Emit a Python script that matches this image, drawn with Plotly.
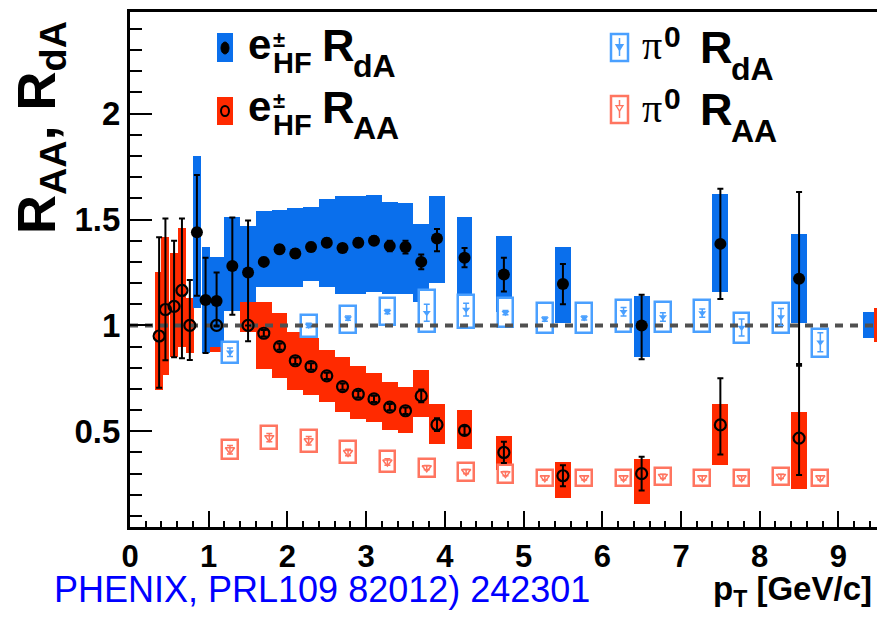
import plotly.graph_objects as go

# ---------------- data ----------------
# e± from heavy flavour, d+Au  (RdA)
ehf_dA_pt = [0.85, 0.96, 1.1, 1.3, 1.5, 1.7, 1.9, 2.1, 2.3, 2.5, 2.7, 2.9, 3.1, 3.3, 3.5, 3.7, 3.9, 4.25, 4.75, 5.5, 6.5, 7.5, 8.5]
ehf_dA_val = [1.44, 1.12, 1.115, 1.28, 1.25, 1.30, 1.36, 1.34, 1.37, 1.39, 1.365, 1.39, 1.40, 1.375, 1.37, 1.30, 1.41, 1.32, 1.24, 1.195, 1.0, 1.385, 1.22]
ehf_dA_stat_up = [0.27, 0.20, 0.135, 0.23, 0.245, 0.02, 0.02, 0.02, 0.02, 0.02, 0.02, 0.02, 0.02, 0.025, 0.03, 0.035, 0.045, 0.045, 0.08, 0.095, 0.145, 0.26, 0.41]
ehf_dA_stat_dn = [0.30, 0.25, 0.12, 0.23, 0.325, 0.02, 0.02, 0.02, 0.02, 0.02, 0.02, 0.02, 0.02, 0.025, 0.03, 0.035, 0.06, 0.045, 0.08, 0.095, 0.16, 0.26, 0.41]
ehf_dA_sys_lo = [1.08, 0.87, 0.90, 1.07, 1.11, 1.18, 1.18, 1.18, 1.21, 1.18, 1.15, 1.15, 1.16, 1.15, 1.15, 1.11, 1.20, 1.14, 1.065, 1.013, 0.85, 1.16, 1.013]
ehf_dA_sys_hi = [1.80, 1.37, 1.325, 1.51, 1.47, 1.54, 1.545, 1.553, 1.56, 1.597, 1.61, 1.61, 1.616, 1.585, 1.58, 1.48, 1.61, 1.51, 1.42, 1.37, 1.14, 1.62, 1.43]

# e± from heavy flavour, Au+Au (RAA)
ehf_AA_pt = [0.37, 0.45, 0.56, 0.66, 0.76, 1.1, 1.5, 1.7, 1.9, 2.1, 2.3, 2.5, 2.7, 2.9, 3.1, 3.3, 3.5, 3.7, 3.9, 4.25, 4.75, 5.5, 6.5, 7.5, 8.5]
ehf_AA_val = [0.95, 1.075, 1.09, 1.165, 1.0, 1.0, 1.0, 0.963, 0.90, 0.833, 0.806, 0.762, 0.711, 0.675, 0.653, 0.614, 0.597, 0.667, 0.531, 0.504, 0.40, 0.29, 0.30, 0.53, 0.468]
ehf_AA_stat_up = [0.466, 0.43, 0.31, 0.34, 0.215, 0.0, 0.0, 0.015, 0.015, 0.015, 0.015, 0.015, 0.015, 0.015, 0.015, 0.015, 0.015, 0.03, 0.03, 0.02, 0.05, 0.05, 0.08, 0.22, 0.35]
ehf_AA_stat_dn = [0.245, 0.24, 0.24, 0.32, 0.163, 0.0, 0.0, 0.015, 0.015, 0.015, 0.015, 0.015, 0.015, 0.015, 0.015, 0.015, 0.015, 0.03, 0.03, 0.02, 0.05, 0.05, 0.08, 0.14, 0.175]
ehf_AA_sys_lo = [0.695, 0.767, 0.853, 0.90, 0.87, 0.876, 0.97, 0.793, 0.75, 0.696, 0.672, 0.64, 0.59, 0.56, 0.546, 0.507, 0.494, 0.568, 0.44, 0.416, 0.318, 0.185, 0.157, 0.342, 0.227]
ehf_AA_sys_hi = [1.25, 1.416, 1.34, 1.458, 1.13, 1.10, 1.11, 1.11, 1.06, 0.97, 0.94, 0.885, 0.853, 0.806, 0.775, 0.735, 0.71, 0.79, 0.63, 0.60, 0.479, 0.355, 0.369, 0.63, 0.589]

# pi0 d+Au (RdA)
pi0_dA_pt = [1.27, 2.27, 2.77, 3.27, 3.77, 4.27, 4.77, 5.27, 5.77, 6.27, 6.77, 7.27, 7.77, 8.27, 8.77]
pi0_dA_val = [0.873, 1.0, 1.034, 1.065, 1.06, 1.075, 1.06, 1.03, 1.035, 1.065, 1.04, 1.058, 0.99, 1.04, 0.92]
pi0_dA_stat = [0.02, 0.01, 0.01, 0.01, 0.04, 0.03, 0.01, 0.01, 0.01, 0.02, 0.02, 0.02, 0.04, 0.04, 0.045]
pi0_dA_sys_lo = [0.822, 0.947, 0.963, 1.0, 0.97, 0.987, 0.994, 0.963, 0.963, 0.97, 0.97, 0.97, 0.916, 0.963, 0.853]
pi0_dA_sys_hi = [0.924, 1.05, 1.09, 1.13, 1.167, 1.144, 1.128, 1.105, 1.105, 1.12, 1.11, 1.12, 1.058, 1.105, 0.982]

# pi0 Au+Au (RAA)
pi0_AA_pt = [1.27, 1.77, 2.27, 2.77, 3.27, 3.77, 4.27, 4.77, 5.27, 5.77, 6.27, 6.77, 7.27, 7.77, 8.27, 8.77]
pi0_AA_val = [0.413, 0.47, 0.455, 0.40, 0.355, 0.328, 0.31, 0.30, 0.28, 0.28, 0.28, 0.287, 0.28, 0.28, 0.287, 0.28]
pi0_AA_stat = [0.02, 0.02, 0.02, 0.015, 0.015, 0.01, 0.01, 0.01, 0.01, 0.01, 0.01, 0.01, 0.01, 0.01, 0.01, 0.01]
pi0_AA_sys_lo = [0.369, 0.416, 0.40, 0.35, 0.306, 0.284, 0.263, 0.256, 0.243, 0.243, 0.243, 0.248, 0.243, 0.243, 0.248, 0.243]
pi0_AA_sys_hi = [0.46, 0.523, 0.507, 0.452, 0.405, 0.369, 0.35, 0.342, 0.318, 0.318, 0.318, 0.326, 0.318, 0.318, 0.326, 0.318]

# global normalisation uncertainties (drawn at right edge)
norm_dA = [0.94, 1.065]
norm_AA = [0.92, 1.08]

x_tick_vals = [0, 1, 2, 3, 4, 5, 6, 7, 8, 9]
x_tick_text = ["0", "1", "2", "3", "4", "5", "6", "7", "8", "9"]
y_tick_vals = [0.5, 1, 1.5, 2]
y_tick_text = ["0.5", "1", "1.5", "2"]

# ---------------- style ----------------
XMAX = 9.49
YMIN, YMAX = 0.048, 2.48
BLUE = "#0a6fec"
RED = "#ff2a00"
LBLUE = "#4aa0ff"
LRED = "#ff7560"
W, H = 877, 617
ML, MR, MT, MB = 130, 0, 12, 90
PW, PH = W - ML - MR, H - MT - MB


def hw(p):
    return 0.05 if p < 1.0 else 0.1


def box_bar(pt, lo, hi, fill, line_color=None, line_w=0):
    return go.Bar(
        x=pt, base=lo, y=[h - l for l, h in zip(lo, hi)],
        width=[2 * hw(p) for p in pt],
        marker=dict(color=fill, line=dict(color=line_color or fill, width=line_w)),
        hoverinfo="skip", showlegend=False,
    )


fig = go.Figure()
# systematic boxes (bars are drawn below scatter traces)
fig.add_trace(box_bar(ehf_AA_pt, ehf_AA_sys_lo, ehf_AA_sys_hi, RED))
fig.add_trace(box_bar(ehf_dA_pt, ehf_dA_sys_lo, ehf_dA_sys_hi, BLUE))
fig.add_trace(box_bar(pi0_dA_pt, pi0_dA_sys_lo, pi0_dA_sys_hi, "white", LBLUE, 2.5))
fig.add_trace(box_bar(pi0_AA_pt, pi0_AA_sys_lo, pi0_AA_sys_hi, "white", LRED, 2.5))
# normalisation boxes
fig.add_trace(go.Bar(x=[XMAX - 0.11], base=[norm_dA[0]], y=[norm_dA[1] - norm_dA[0]], width=[0.14],
                     marker=dict(color=BLUE, line_width=0), showlegend=False, hoverinfo="skip"))
fig.add_trace(go.Bar(x=[XMAX + 0.03], base=[norm_AA[0]], y=[norm_AA[1] - norm_AA[0]], width=[0.14],
                     marker=dict(color=RED, line_width=0), showlegend=False, hoverinfo="skip"))

# dashed unity line
fig.add_trace(go.Scatter(x=[0, XMAX], y=[1, 1], mode="lines",
                         line=dict(color="#505050", width=4, dash="8px,7px"),
                         hoverinfo="skip", showlegend=False))

# pi0 points
fig.add_trace(go.Scatter(
    x=pi0_dA_pt, y=pi0_dA_val, mode="markers",
    marker=dict(symbol="triangle-down", size=7, color=LBLUE),
    error_y=dict(type="data", array=pi0_dA_stat, color=LBLUE, thickness=1.5, width=3),
    showlegend=False))
fig.add_trace(go.Scatter(
    x=pi0_AA_pt, y=pi0_AA_val, mode="markers",
    marker=dict(symbol="triangle-down-open", size=8, color=LRED, line=dict(width=1.5, color=LRED)),
    error_y=dict(type="data", array=pi0_AA_stat, color=LRED, thickness=1.5, width=3),
    showlegend=False))

# e± HF points
fig.add_trace(go.Scatter(
    x=ehf_AA_pt, y=ehf_AA_val, mode="markers",
    marker=dict(symbol="circle-open", size=11, color="black", line=dict(width=2.2, color="black")),
    error_y=dict(type="data", symmetric=False, array=ehf_AA_stat_up, arrayminus=ehf_AA_stat_dn,
                 color="black", thickness=2, width=3),
    showlegend=False))
fig.add_trace(go.Scatter(
    x=ehf_dA_pt, y=ehf_dA_val, mode="markers",
    marker=dict(symbol="circle", size=12, color="black"),
    error_y=dict(type="data", symmetric=False, array=ehf_dA_stat_up, arrayminus=ehf_dA_stat_dn,
                 color="black", thickness=2, width=3),
    showlegend=False))


# ---------------- legend & labels (pixel -> paper helpers) ----------------
def px(x):
    return (x - ML) / PW


def py(y):
    return (H - MB - y) / PH


shapes = []
annots = []
BOLD = "Liberation Sans, Arial, sans-serif"


def rect(x0, y0, x1, y1, fill, line_color=None, lw=0):
    shapes.append(dict(type="rect", xref="paper", yref="paper",
                       x0=px(x0), x1=px(x1), y0=py(y1), y1=py(y0),
                       fillcolor=fill, line=dict(color=line_color or fill, width=lw), layer="above"))


def ellipse(cx, cy, rx, ry, fill, line_color, lw):
    shapes.append(dict(type="circle", xref="paper", yref="paper",
                       x0=px(cx - rx), x1=px(cx + rx), y0=py(cy + ry), y1=py(cy - ry),
                       fillcolor=fill, line=dict(color=line_color, width=lw), layer="above"))


def seg(x0, y0, x1, y1, color, lw):
    shapes.append(dict(type="line", xref="paper", yref="paper",
                       x0=px(x0), x1=px(x1), y0=py(y0), y1=py(y1),
                       line=dict(color=color, width=lw), layer="above"))


def tri(cx, cy, s, color, filled):
    path = "M {:.5f},{:.5f} L {:.5f},{:.5f} L {:.5f},{:.5f} Z".format(
        px(cx - s), py(cy - s * 0.7), px(cx + s), py(cy - s * 0.7), px(cx), py(cy + s * 0.9))
    shapes.append(dict(type="path", xref="paper", yref="paper", path=path,
                       fillcolor=color if filled else "white",
                       line=dict(color=color, width=1.3), layer="above"))


def text(t, x, y, size, family=BOLD, bold=True, color="black", xanchor="left", angle=0):
    annots.append(dict(text=("<b>%s</b>" % t) if bold else t, xref="paper", yref="paper",
                       x=px(x), y=py(y),
                       xanchor=xanchor, yanchor="middle", showarrow=False, textangle=angle,
                       font=dict(family=family, size=size, color=color)))


# legend row 1 / 2 : e± HF
rect(217, 33, 233, 62, BLUE)
ellipse(225, 48, 4, 6, "black", "black", 1)
rect(217, 97, 233, 125, RED)
ellipse(225, 111, 4, 5, RED, "black", 2)
for (yb, sub) in [(58, "dA"), (120, "AA")]:
    text("e", 246, yb - 14, 42)
    text("±", 271, yb - 19, 22)
    text("HF", 271, yb + 5, 29)
    text("R", 320, yb - 13, 45)
    text(sub, 351, yb + 8, 32)

# legend pi0
rect(611, 34, 628, 61, "white", LBLUE, 2.5)
seg(619.5, 38, 619.5, 56, LBLUE, 1.5)
tri(619.5, 47, 3.5, LBLUE, True)
rect(611, 96, 628, 123, "white", LRED, 2.5)
seg(619.5, 100, 619.5, 118, LRED, 1.5)
tri(619.5, 108, 3.5, LRED, False)
for (yb, sub) in [(58, "dA"), (120, "AA")]:
    text("π", 640, yb - 12, 40, family="Liberation Serif, Times New Roman, serif", bold=False)
    text("0", 662, yb - 22, 30)
    text("R", 698, yb - 10, 45)
    text(sub, 729, yb + 11, 32)

# axis titles
text("R<sub>AA</sub>, R<sub>dA</sub>", 40, 128, 54, xanchor="center", angle=-90)
annots.append(dict(text="<b>p<sub>T</sub> [GeV/c]</b>", xref="paper", yref="paper", x=px(874), y=py(591),
                   xanchor="right", yanchor="middle", showarrow=False,
                   font=dict(family=BOLD, size=33, color="black")))
# reference text
text("PHENIX, PRL109 82012) 242301", 52, 589, 36, bold=False, color="#0000ff")

fig.update_layout(
    width=W, height=H,
    margin=dict(l=ML, r=MR, t=MT, b=MB, pad=0),
    paper_bgcolor="white", plot_bgcolor="white",
    barmode="overlay", bargap=0,
    showlegend=False,
    shapes=shapes, annotations=annots,
    xaxis=dict(range=[0, XMAX], tickvals=x_tick_vals, ticktext=["<b>%s</b>" % t for t in x_tick_text],
               ticks="inside", ticklen=16, tickwidth=2,
               tickcolor="black", showline=True, linecolor="black", linewidth=3, mirror=True,
               showgrid=False, zeroline=False,
               tickfont=dict(family=BOLD, size=31, color="black"),
               minor=dict(dtick=0.2, ticks="inside", ticklen=6, tickwidth=2, tickcolor="black")),
    yaxis=dict(range=[YMIN, YMAX], tickvals=y_tick_vals, ticktext=["<b>%s</b>" % t for t in y_tick_text],
               ticks="inside",
               ticklen=22, tickwidth=2, tickcolor="black", showline=True, linecolor="black",
               linewidth=3, showgrid=False, zeroline=False,
               tickfont=dict(family=BOLD, size=33, color="black"),
               minor=dict(dtick=0.1, tick0=0, ticks="inside", ticklen=12, tickwidth=2, tickcolor="black")),
)

fig.write_html("out.html")
